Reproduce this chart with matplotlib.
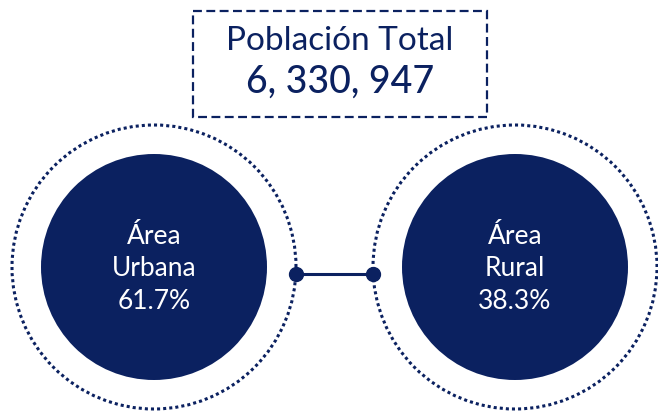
import matplotlib.pyplot as plt
from matplotlib.patches import Circle, Rectangle

navy = "#0b2160"

title = "Población Total"
total = "6, 330, 947"
areas = ["Área\nUrbana", "Área\nRural"]
shares = [61.7, 38.3]
centers_x = [154, 515]

fig = plt.figure(figsize=(6.58, 4.11), dpi=100)
ax = fig.add_axes([0, 0, 1, 1])
ax.set_xlim(0, 658)
ax.set_ylim(411, 0)
ax.set_aspect("equal")
ax.axis("off")

# header box
ax.add_patch(Rectangle((193, 11), 294, 106, fill=False, edgecolor=navy,
                       lw=1.6, linestyle=(0, (4, 2))))
ax.text(340, 41, title, ha="center", va="center", fontsize=24,
        color=navy, family="Lato", fontweight="normal")
ax.text(340, 82, total, ha="center", va="center", fontsize=27,
        color=navy, family="Lato", fontweight="medium")

cy = 267
for cx, label, share in zip(centers_x, areas, shares):
    ax.add_patch(Circle((cx, cy), 142, fill=False, edgecolor=navy,
                        lw=2.2, linestyle=(0, (1, 1))))
    ax.add_patch(Circle((cx, cy), 113, color=navy, lw=0))
    ax.text(cx, cy + 2, f"{label}\n{share}%", ha="center", va="center",
            fontsize=19, color="white", family="Lato", fontweight="normal",
            linespacing=1.38)

# connector
x0 = centers_x[0] + 142
x1 = centers_x[1] - 142
ax.plot([x0, x1], [274, 274], color=navy, lw=2.2)
ax.plot([x0, x1], [274, 274], "o", color=navy, ms=10)

fig.savefig("out.png", dpi=100)
